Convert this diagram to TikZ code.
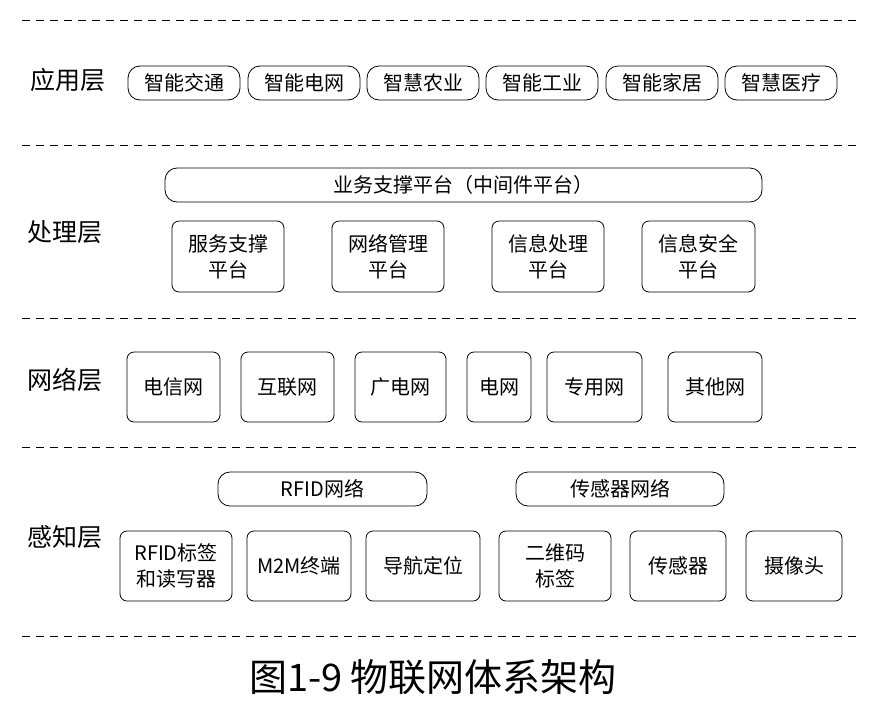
\documentclass[tikz,border=0pt]{standalone}
\usepackage{fontspec}
\setmainfont{Noto Sans CJK SC}
\begin{document}
\begin{tikzpicture}[x=1pt,y=-1pt,
  bx/.style={draw,thick,rounded corners=7pt,align=center,font=\fontsize{20}{26}\selectfont,inner sep=0pt},
  pill/.style={draw,thick,rounded corners=12pt,font=\fontsize{20}{24}\selectfont,inner sep=0pt},
  lay/.style={font=\fontsize{25}{28}\selectfont},
  sep/.style={dashed,thick,dash pattern=on 8pt off 6pt}]
\useasboundingbox (0,0) rectangle (891,705);
\foreach \y/\n in {20/a,145/b,318/c,447/d,636/e}{
  \coordinate (L\n) at (22,\y); \coordinate (R\n) at (857,\y);
  \draw[sep] (L\n) -- (R\n);}
\newcommand{\bxat}[6]{\node[bx,minimum width=#3-#2,minimum height=#5-#4] (#1) at ({(#2+#3)/2},{(#4+#5)/2}) {#6};}
\newcommand{\plat}[6]{\node[pill,minimum width=#3-#2,minimum height=#5-#4] (#1) at ({(#2+#3)/2},{(#4+#5)/2}) {#6};}
\node[lay] (l1) at (68,80) {应用层};
\foreach \n/\a/\b/\t in {a1/128/240/智能交通,a2/248/360/智能电网,a3/367/479/智慧农业,a4/486/598/智能工业,a5/606/718/智能家居,a6/725/837/智慧医疗}{
  \plat{\n}{\a}{\b}{66}{100}{\t}}
\node[lay] (l2) at (65,232) {处理层};
\plat{mid}{165}{762}{168}{202}{业务支撑平台（中间件平台）}
\foreach \n/\a/\b/\t in {p1/172/284/服务支撑\\平台,p2/332/444/网络管理\\平台,p3/492/604/信息处理\\平台,p4/642/755/信息安全\\平台}{
  \bxat{\n}{\a}{\b}{221}{292}{\t}}
\node[lay] (l3) at (65,380) {网络层};
\foreach \n/\a/\b/\t in {n1/127/220/电信网,n2/241/334/互联网,n3/355/446/广电网,n4/467/531/电网,n5/547/642/专用网,n6/668/762/其他网}{
  \bxat{\n}{\a}{\b}{352}{422}{\t}}
\node[lay] (l4) at (65,537) {感知层};
\plat{rf}{218}{427}{472}{506}{RFID网络}
\plat{sn}{516}{724}{472}{506}{传感器网络}
\foreach \n/\a/\b/\t in {s1/120/232/RFID标签\\和读写器,s2/247/351/M2M终端,s3/366/480/导航定位,s4/499/611/二维码\\标签,s5/630/726/传感器,s6/746/842/摄像头}{
  \bxat{\n}{\a}{\b}{531}{601}{\t}}
\node[font=\fontsize{38}{42}\selectfont] (title) at (433,677) {图1-9 物联网体系架构};
\end{tikzpicture}
\end{document}
